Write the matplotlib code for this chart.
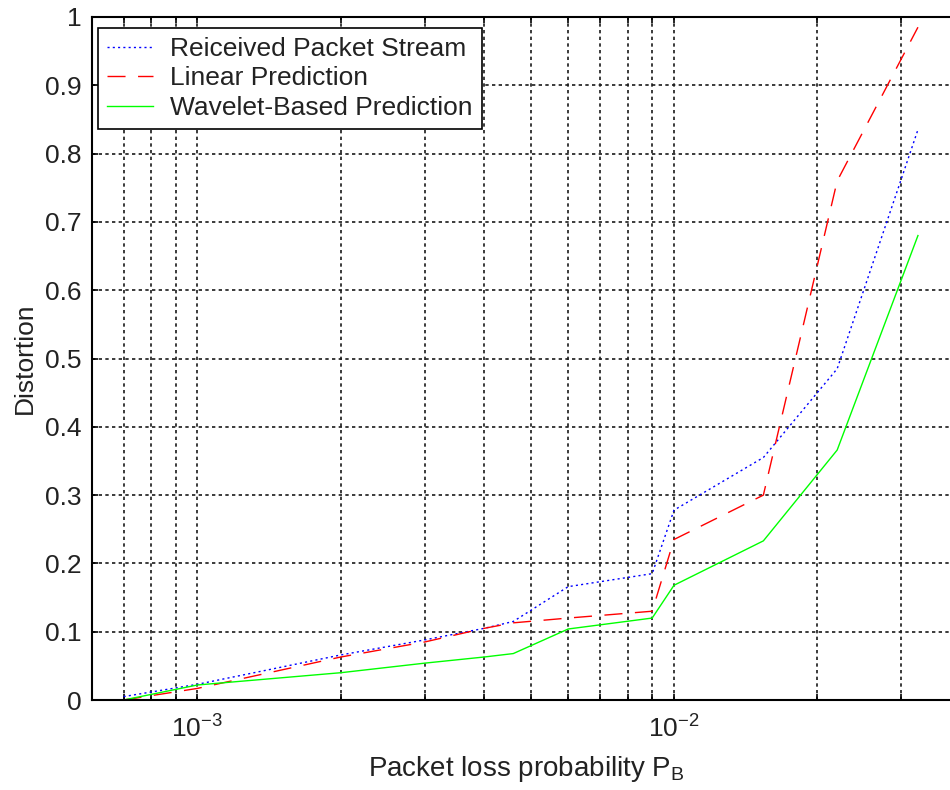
import numpy as np
import matplotlib

matplotlib.use('Agg')  # Non-interactive backend
import matplotlib.pyplot as plt
from matplotlib.ticker import LogLocator, MultipleLocator, NullFormatter, FormatStrFormatter

# Data
loss_prob = [7e-4, 1e-3, 2e-3, 3e-3, 4e-3, 4.6e-3, 6e-3, 9e-3, 1e-2, 1.54e-2, 2.2e-2, 3.25e-2]
received = [0.005, 0.023, 0.066, 0.088, 0.105, 0.115, 0.166, 0.185, 0.278, 0.355, 0.485, 0.835]
linear = [0.0, 0.017, 0.063, 0.085, 0.105, 0.113, 0.120, 0.130, 0.235, 0.300, 0.760, 0.985]
wavelet = [0.0, 0.022, 0.040, 0.054, 0.063, 0.068, 0.104, 0.120, 0.168, 0.233, 0.366, 0.680]
series_labels = ['Reiceived Packet Stream', 'Linear Prediction', 'Wavelet-Based Prediction']

plt.rcParams['font.family'] = ['Liberation Sans', 'DejaVu Sans']
plt.rcParams['mathtext.fontset'] = 'custom'
plt.rcParams['mathtext.rm'] = 'Liberation Sans'
plt.rcParams['mathtext.it'] = 'Liberation Sans'
plt.rcParams['mathtext.default'] = 'regular'

fs = 19
fig = plt.figure(figsize=(9.5, 7.9), dpi=100)
# axes runs past the right edge of the figure, like the cropped original
ax = fig.add_axes([0.0965, 0.1139, 0.915, 0.8646])

ax.plot(loss_prob, received, color='#0000ff', lw=1.0, dashes=(1.5, 2.3), label=series_labels[0])
ax.plot(loss_prob, linear, color='#ff0000', lw=1.0, dashes=(13, 9), label=series_labels[1])
ax.plot(loss_prob, wavelet, color='#00ff00', lw=1.0, label=series_labels[2])

ax.set_xscale('log')
ax.set_xlim(6e-4, 4e-2)
ax.set_ylim(0, 1)
ax.xaxis.set_major_locator(LogLocator(base=10, numticks=10))
ax.xaxis.set_minor_locator(LogLocator(base=10, subs=np.arange(2, 10), numticks=10))
ax.xaxis.set_minor_formatter(NullFormatter())
ax.yaxis.set_major_locator(MultipleLocator(0.1))
ax.yaxis.set_major_formatter(FormatStrFormatter('%g'))

ax.grid(True, which='both', axis='x', color='#1a1a1a', lw=1.2, dashes=(2, 2))
ax.grid(True, which='major', axis='y', color='#1a1a1a', lw=1.2, dashes=(2, 2))
ax.set_axisbelow(True)

for sp in ax.spines.values():
    sp.set_linewidth(1.5)
    sp.set_color('black')

ax.tick_params(which='both', direction='in', length=4.5, width=1.2, top=True, right=True,
               labelsize=fs, colors='black', labelcolor='#222222')
ax.tick_params(axis='y', pad=7)
ax.tick_params(axis='x', which='both', pad=11)

ax.set_xlabel('Packet loss probability P$_B$', fontsize=20, labelpad=8, color='#222222')
ax.set_ylabel('Distortion', fontsize=fs, labelpad=6, color='#222222')

leg = ax.legend(loc='upper left', bbox_to_anchor=(6 / 869, 1 - 11 / 683), borderaxespad=0,
                fontsize=fs, handlelength=1.75, handletextpad=0.65, labelspacing=0.2,
                borderpad=0.35, fancybox=False, framealpha=1, edgecolor='black')
leg.get_frame().set_linewidth(1.2)
for t in leg.get_texts():
    t.set_color('#222222')

plt.savefig('out.png', dpi=100)
plt.close(fig)
